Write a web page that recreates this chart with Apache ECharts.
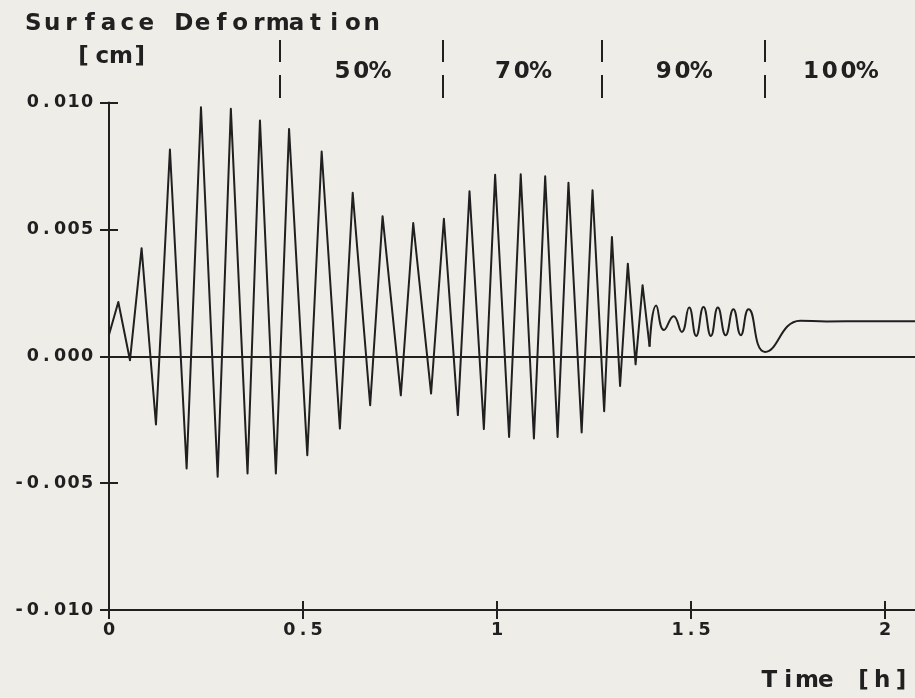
<!DOCTYPE html>
<html>
<head>
<meta charset="utf-8">
<script src="https://cdn.jsdelivr.net/npm/echarts@6/dist/echarts.min.js"></script>
<style>
  html, body { margin: 0; padding: 0; background: #eeede8; }
  #chart { width: 915px; height: 698px; }
</style>
</head>
<body>
<div id="chart"></div>
<script>
// Surface deformation [cm] over time [h], turning points of the oscillation
const swingTime = [
  0.000, 0.024, 0.054, 0.084, 0.121, 0.157, 0.200, 0.237, 0.280, 0.314,
  0.357, 0.389, 0.430, 0.464, 0.511, 0.548, 0.595, 0.628, 0.673, 0.705,
  0.752, 0.784, 0.830, 0.863, 0.899, 0.929, 0.966, 0.995, 1.031, 1.061,
  1.095, 1.124, 1.156, 1.184, 1.218, 1.246, 1.276, 1.296, 1.317, 1.337,
  1.357, 1.375, 1.393
];
const swingValue = [
  0.00085, 0.00214, -0.00016, 0.00426, -0.00269, 0.00815, -0.00442, 0.00981, -0.00475, 0.00975,
  -0.00462, 0.00929, -0.00462, 0.00896, -0.00390, 0.00807, -0.00285, 0.00644, -0.00193, 0.00552,
  -0.00154, 0.00525, -0.00147, 0.00542, -0.00232, 0.00650, -0.00287, 0.00715, -0.00318, 0.00717,
  -0.00324, 0.00709, -0.00318, 0.00684, -0.00300, 0.00654, -0.00217, 0.00470, -0.00117, 0.00365,
  -0.00032, 0.00280, 0.00038
];

// Small ripples and settling after the last load step
const tailTime = [
  1.393, 1.410, 1.430, 1.455, 1.476, 1.495, 1.513, 1.532, 1.551, 1.569,
  1.589, 1.609, 1.628, 1.648, 1.691, 1.781, 1.850, 1.950, 2.077
];
const tailValue = [
  0.00038, 0.00200, 0.00103, 0.00158, 0.00096, 0.00192, 0.00080, 0.00194, 0.00080, 0.00192,
  0.00083, 0.00185, 0.00083, 0.00185, 0.00017, 0.00140, 0.00137, 0.00138, 0.00138
];

// Load stages shown above the plot
const stageBounds = [0.443, 0.857, 1.270, 1.686];
const stageLabels = ['50%', '70%', '90%', '100%'];

// Axis ticks
const xTicks = [0, 0.5, 1, 1.5, 2];
const yTicks = [-0.010, -0.005, 0.000, 0.005, 0.010];
const X_MAX = 2.077;

const INK = '#202020';
const FONT = 'DejaVu Sans';

// fixed-pitch text: every character gets its own box of equal width
function boxed(str, key) {
  return String(str).split('').map(function (c) { return '{' + key + '|' + c + '}'; }).join('');
}
const BIG = { fontFamily: FONT, fontWeight: 'bold', fontSize: 23, width: 18.8, align: 'center', color: INK, lineHeight: 24 };
const SMALL = { fontFamily: FONT, fontWeight: 'bold', fontSize: 17.5, width: 13.6, align: 'center', color: INK, lineHeight: 18 };

function zip(xs, ys) { return xs.map(function (x, i) { return [x, ys[i]]; }); }

const stageAreas = stageBounds.map(function (b, i) {
  const end = i + 1 < stageBounds.length ? stageBounds[i + 1] : X_MAX;
  return [{ name: stageLabels[i], xAxis: b }, { xAxis: end }];
});

const chart = echarts.init(document.getElementById('chart'), null, { renderer: 'canvas' });

const xAxisBase = {
  type: 'value', min: 0, max: X_MAX, gridIndex: 0, position: 'bottom',
  splitLine: { show: false }
};
const yAxisBase = {
  type: 'value', min: -0.010, max: 0.010, gridIndex: 0, position: 'left',
  splitLine: { show: false }
};

chart.setOption({
  backgroundColor: '#eeede8',
  animation: false,
  title: [
    { text: boxed('Surface Deformation', 'b'), left: 24, top: 12, padding: 0, textStyle: { rich: { b: BIG } } },
    { text: boxed('[cm]', 'b'), left: 74, top: 45, padding: 0, textStyle: { rich: { b: BIG } } },
    { text: boxed('Time [h]', 'b'), left: 760, top: 669, padding: 0, textStyle: { rich: { b: BIG } } }
  ],
  grid: [
    { left: 109, top: 102.5, width: 806, height: 507.5, outerBoundsMode: 'none' },
    { left: 109, top: 40, width: 806, height: 58, outerBoundsMode: 'none' }
  ],
  xAxis: [
    Object.assign({}, xAxisBase, {
      axisLine: { onZero: false, lineStyle: { color: INK, width: 2 } },
      axisTick: { inside: false, length: 9, lineStyle: { color: INK, width: 2 }, customValues: xTicks },
      axisLabel: {
        margin: 11, customValues: xTicks,
        formatter: function (v) { return boxed(String(v), 'd'); },
        rich: { d: SMALL }
      }
    }),
    Object.assign({}, xAxisBase, {
      axisLine: { show: false, onZero: false },
      axisTick: { inside: true, length: 9, lineStyle: { color: INK, width: 2 }, customValues: xTicks },
      axisLabel: { show: false }
    }),
    { type: 'value', min: 0, max: X_MAX, gridIndex: 1, show: false }
  ],
  yAxis: [
    Object.assign({}, yAxisBase, {
      axisLine: { show: true, onZero: false, lineStyle: { color: INK, width: 2 } },
      axisTick: { show: true, inside: false, length: 9, lineStyle: { color: INK, width: 2 }, customValues: yTicks },
      axisLabel: {
        margin: 15, customValues: yTicks,
        formatter: function (v) { return boxed(v.toFixed(3), 'd'); },
        rich: { d: SMALL }
      }
    }),
    Object.assign({}, yAxisBase, {
      axisLine: { show: false, onZero: false },
      axisTick: { show: true, inside: true, length: 9, lineStyle: { color: INK, width: 2 }, customValues: yTicks },
      axisLabel: { show: false }
    }),
    { type: 'value', min: 0, max: 1, gridIndex: 1, show: false }
  ],
  series: [
    {
      name: 'oscillation',
      type: 'line', xAxisIndex: 0, yAxisIndex: 0,
      data: zip(swingTime, swingValue),
      showSymbol: false, symbol: 'none',
      lineStyle: { color: INK, width: 2, join: 'round' },
      silent: true,
      markLine: {
        silent: true, symbol: ['none', 'none'],
        label: { show: false },
        lineStyle: { type: 'solid', color: INK, width: 2 },
        data: [{ yAxis: 0 }]
      }
    },
    {
      name: 'settling',
      type: 'line', xAxisIndex: 0, yAxisIndex: 0,
      data: zip(tailTime, tailValue),
      smooth: 0.5,
      showSymbol: false, symbol: 'none',
      lineStyle: { color: INK, width: 2 },
      silent: true
    },
    {
      name: 'stages',
      type: 'line', xAxisIndex: 2, yAxisIndex: 2,
      data: [],
      silent: true,
      markLine: {
        silent: true, symbol: ['none', 'none'],
        label: { show: false },
        lineStyle: { type: [23, 13], color: INK, width: 2 },
        data: stageBounds.map(function (b) { return { xAxis: b }; })
      },
      markArea: {
        silent: true,
        itemStyle: { color: 'rgba(0,0,0,0)' },
        label: {
          show: true, position: 'inside', offset: [0, 3],
          formatter: function (p) { return boxed(p.name, 'b'); },
          rich: { b: BIG }
        },
        data: stageAreas
      }
    }
  ]
});
</script>
</body>
</html>
